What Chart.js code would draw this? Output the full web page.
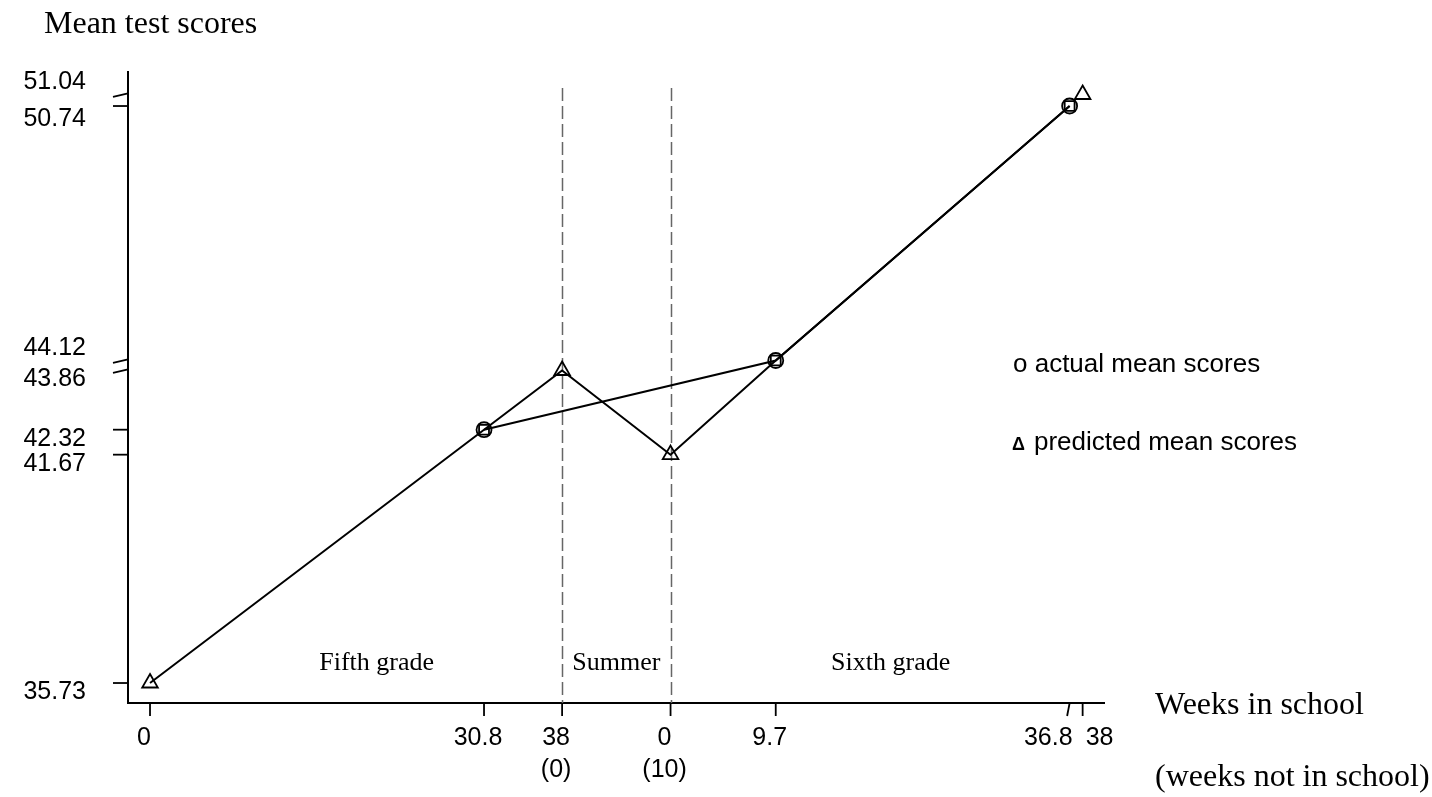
<!DOCTYPE html>
<html>
<head>
<meta charset="utf-8">
<title>Mean test scores</title>
<script src="https://cdn.jsdelivr.net/npm/chart.js@4.4.1/dist/chart.umd.min.js"></script>
<style>
    html, body { margin: 0; padding: 0; background: #fff; }
    #wrap { position: relative; width: 1432px; height: 797px; }
</style>
</head>
<body>
<div id="wrap"><canvas id="scoreChart"></canvas></div>
<script>
// One running timeline of weeks: fifth grade 0-38, summer 38-48, sixth grade 48-86
const actualWeeks = [30.8, 57.7, 84.8];
const actualScores = [42.32, 44.12, 50.74];

const predictedWeeks = [0, 30.8, 38, 48, 57.7, 84.8];
const predictedScores = [35.73, 42.32, 43.86, 41.67, 44.12, 50.74];
const predictedMarkers = ['triangle', 'rect', 'triangle', 'triangle', 'rect', 'rect'];

// end of sixth grade prediction, not joined to the line
const endWeeks = [86];
const endScores = [51.04];

const xTickWeeks = [0, 30.8, 38, 48, 57.7, 84.8, 86];
const xTickLabels = ['0', '30.8', '38', '0', '9.7', '36.8', '38'];
const xTickNotInSchool = ['', '', '(0)', '(10)', '', '', ''];

const yTickScores = [51.04, 50.74, 44.12, 43.86, 42.32, 41.67, 35.73];
const yTickLabels = ['51.04', '50.74', '44.12', '43.86', '42.32', '41.67', '35.73'];

const periodBreaks = [38, 48];
const periodNames = ['Fifth grade', 'Summer', 'Sixth grade'];

const SANS = '"Liberation Sans", Arial, sans-serif';
const SERIF = '"Liberation Serif", "Times New Roman", serif';

function toPoints(xs, ys) {
    return xs.map((x, i) => ({ x: x, y: ys[i] }));
}

// Ticks, labels, summer markers and free text
const annotations = {
    id: 'annotations',
    beforeDatasetsDraw(chart) {
        const ctx = chart.ctx;
        const x = chart.scales.x;
        const area = chart.chartArea;

        ctx.save();
        ctx.strokeStyle = '#666';
        ctx.lineWidth = 1.5;
        ctx.setLineDash([13, 5]);
        periodBreaks.forEach(w => {
            const px = Math.round(x.getPixelForValue(w)) + 0.5;
            ctx.beginPath();
            ctx.moveTo(px, area.top + 16);
            ctx.lineTo(px, area.bottom);
            ctx.stroke();
        });
        ctx.restore();
    },
    afterDraw(chart) {
        const ctx = chart.ctx;
        const x = chart.scales.x;
        const y = chart.scales.y;
        const area = chart.chartArea;

        ctx.save();
        ctx.strokeStyle = '#000';
        ctx.fillStyle = '#000';
        ctx.lineWidth = 1.8;

        // y ticks (broken axis values get a slanted mark)
        const ySlanted = [true, false, true, true, false, false, false];
        const yLabelShift = [-14, 11, -14, 7, 7, 7, 7];
        ctx.font = '25px ' + SANS;
        ctx.textAlign = 'right';
        ctx.textBaseline = 'alphabetic';
        yTickScores.forEach((v, i) => {
            const py = y.getPixelForValue(v);
            ctx.beginPath();
            ctx.moveTo(area.left - 15, py + (ySlanted[i] ? 2.5 : 0));
            ctx.lineTo(area.left, py - (ySlanted[i] ? 1 : 0));
            ctx.stroke();
            ctx.fillText(yTickLabels[i], 86, py + yLabelShift[i] + 9);
        });

        // x ticks
        const xSlanted = [false, false, false, false, false, true, false];
        xTickWeeks.forEach((w, i) => {
            const px = x.getPixelForValue(w);
            ctx.beginPath();
            ctx.moveTo(px - (xSlanted[i] ? 2.5 : 0), area.bottom + 13);
            ctx.lineTo(px, area.bottom);
            ctx.stroke();

            let align = 'center';
            let dx = -6;
            if (i === xTickWeeks.length - 2) { align = 'right'; dx = 3; }
            if (i === xTickWeeks.length - 1) { align = 'left'; dx = 3; }
            ctx.textAlign = align;
            ctx.fillText(xTickLabels[i], px + dx, area.bottom + 42);
            if (xTickNotInSchool[i]) {
                ctx.fillText(xTickNotInSchool[i], px + dx, area.bottom + 74);
            }
        });

        // period names along the bottom of the plot
        const periodCentres = [20.9, 43, 68.3];
        ctx.font = '26px ' + SERIF;
        ctx.textAlign = 'center';
        periodNames.forEach((name, i) => {
            ctx.fillText(name, x.getPixelForValue(periodCentres[i]), area.bottom - 33);
        });

        // axis titles
        ctx.font = '32px ' + SERIF;
        ctx.textAlign = 'left';
        ctx.fillText('Mean test scores', 44, 33);
        ctx.fillText('Weeks in school', 1155, 714);
        ctx.fillText('(weeks not in school)', 1155, 786);

        // legend
        ctx.font = '26px ' + SANS;
        ctx.fillText('o actual mean scores', 1013, 372);
        ctx.font = 'bold 18px ' + SANS;
        ctx.fillText('\u0394', 1012, 450);
        ctx.font = '26px ' + SANS;
        ctx.fillText('predicted mean scores', 1034, 450);

        ctx.restore();
    }
};

document.addEventListener('DOMContentLoaded', function() {
    const canvas = document.getElementById('scoreChart');

    new Chart(canvas, {
        type: 'line',
        data: {
            datasets: [{
                label: 'actual mean scores',
                data: toPoints(actualWeeks, actualScores),
                borderColor: '#000',
                borderWidth: 2,
                tension: 0,
                pointStyle: 'circle',
                pointRadius: 7.5,
                pointBorderWidth: 1.8,
                pointBorderColor: '#000',
                pointBackgroundColor: 'rgba(0,0,0,0)'
            }, {
                label: 'predicted mean scores',
                data: toPoints(predictedWeeks, predictedScores),
                borderColor: '#000',
                borderWidth: 2,
                tension: 0,
                pointStyle: predictedMarkers,
                pointRadius: predictedMarkers.map(m => m === 'rect' ? 7 : 9),
                pointBorderWidth: 1.8,
                pointBorderColor: '#000',
                pointBackgroundColor: 'rgba(0,0,0,0)'
            }, {
                label: 'predicted end',
                data: toPoints(endWeeks, endScores),
                showLine: false,
                pointStyle: 'triangle',
                pointRadius: 9,
                pointBorderWidth: 1.8,
                pointBorderColor: '#000',
                pointBackgroundColor: 'rgba(0,0,0,0)'
            }]
        },
        options: {
            responsive: true,
            maintainAspectRatio: false,
            animation: false,
            clip: false,
            layout: {
                padding: { top: 72, right: 328, left: 0, bottom: 0 }
            },
            plugins: {
                legend: { display: false },
                tooltip: { enabled: false }
            },
            scales: {
                x: {
                    type: 'linear',
                    min: -2.03,
                    max: 87.97,
                    grid: { display: false },
                    ticks: { display: false },
                    border: { display: true, color: '#000', width: 2 },
                    afterFit: scale => { scale.height = 94; }
                },
                y: {
                    type: 'linear',
                    min: 35.21,
                    max: 51.625,
                    grid: { display: false },
                    ticks: { display: false },
                    border: { display: true, color: '#000', width: 2 },
                    afterFit: scale => { scale.width = 128; }
                }
            }
        },
        plugins: [annotations]
    });
});
</script>
</body>
</html>
